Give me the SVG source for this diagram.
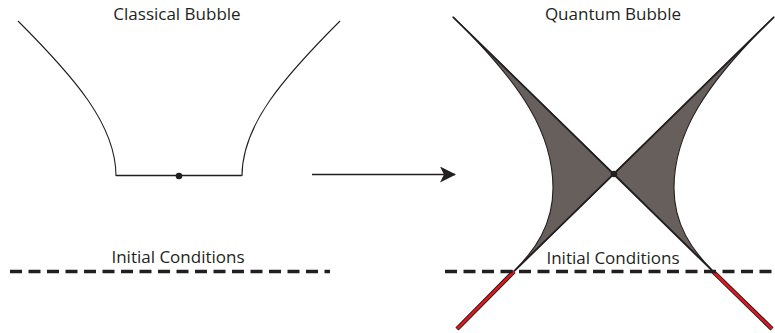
<svg xmlns="http://www.w3.org/2000/svg" width="775" height="333" viewBox="0 0 775 333">
<style>
text{font-family:"Open Sans","Liberation Sans",sans-serif;font-size:17px;fill:#231f20;text-anchor:middle}
.thin{fill:none;stroke:#231f20;stroke-width:1.1}
.edge{fill:none;stroke:#231f20;stroke-width:1.7}
.lobe{fill:#675f5b;stroke:#231f20;stroke-width:1.1;stroke-linejoin:round}
.dash{fill:none;stroke:#231f20;stroke-width:3.5;stroke-dasharray:12 6.5}
.redo{fill:none;stroke:#231f20;stroke-width:4.5}
.redi{fill:none;stroke:#e3161e;stroke-width:2.5}
</style>
<defs>
<marker id="ah" viewBox="0 0 16 16" refX="15" refY="8" markerWidth="16" markerHeight="16" markerUnits="userSpaceOnUse" orient="auto">
<path d="M0,0 L16,8 L0,16 L4,8 Z" fill="#231f20"/>
</marker>
</defs>
<g id="classical-bubble">
<text x="177" y="20">Classical Bubble</text>
<path class="thin" d="M18,21 C75,78 116,125 116,176"/>
<path class="thin" d="M340,21 C283,78 242,125 242,176"/>
<line x1="116" y1="175.5" x2="242" y2="175.5" stroke="#231f20" stroke-width="1.6"/>
<circle cx="179" cy="176" r="3.3" fill="#231f20"/>
</g>
<g id="classical-initial">
<text x="178" y="263">Initial Conditions</text>
<line class="dash" x1="10" y1="271.5" x2="330" y2="271.5"/>
</g>
<g id="quantum-bubble">
<text x="613" y="20">Quantum Bubble</text>
<path class="lobe" d="M453,17 C524,86 553,135 553,188 C553,225 535,250 514,271 L614,174 Z"/>
<path class="lobe" d="M774,17 C703,86 674,135 674,188 C674,225 692,250 713,271 L614,174 Z"/>
<path class="edge" d="M453,17 L713,271.5 M774,17 L514,271.5"/>
<path class="redo" d="M514,271.5 L457,329 M713,271.5 L772,329"/>
<path class="redi" d="M514,271.5 L457,329 M713,271.5 L772,329"/>
<circle cx="614" cy="174" r="3.3" fill="#231f20"/>
</g>
<g id="quantum-initial">
<text x="613" y="264">Initial Conditions</text>
<line class="dash" x1="445" y1="271.5" x2="775" y2="271.5"/>
</g>
<g id="connectors">
<line x1="312" y1="174.5" x2="455" y2="174.5" stroke="#231f20" stroke-width="1.5" marker-end="url(#ah)"/>
</g>
</svg>
